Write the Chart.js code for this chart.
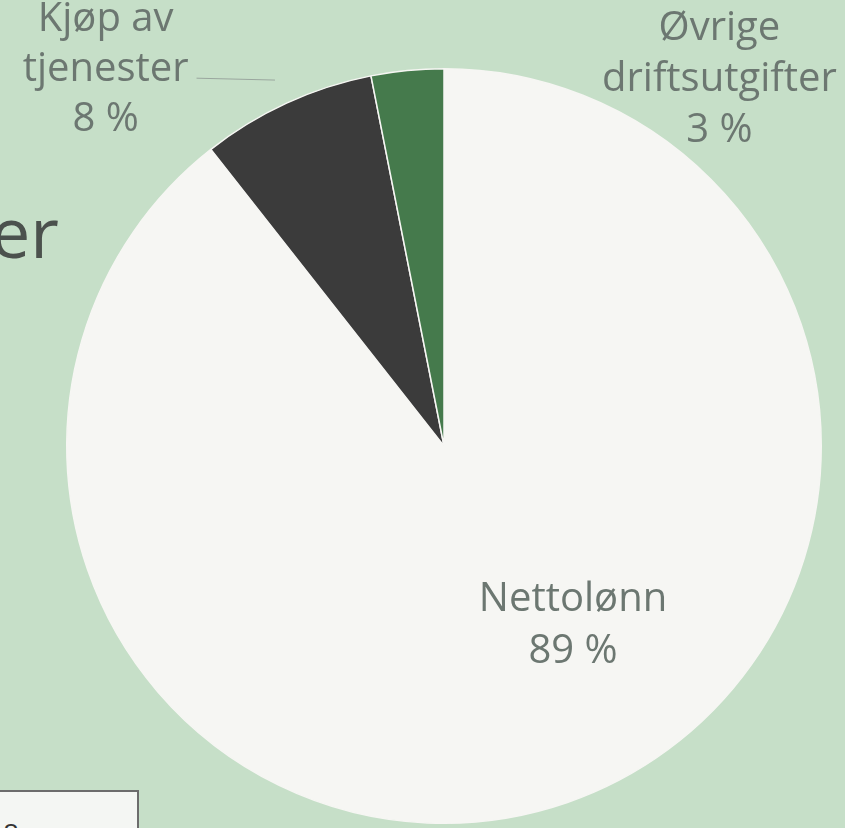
<!DOCTYPE html>
<html>
<head>
<meta charset="utf-8">
<script src="https://cdn.jsdelivr.net/npm/chart.js@4"></script>
<style>
  html, body { margin: 0; padding: 0; background: #c6dfc8; }
  #wrap { position: relative; width: 845px; height: 828px; overflow: hidden; background: #c6dfc8; }
  canvas { position: absolute; left: 0; top: 0; }
  #title { position: absolute; left: -9px; top: 196px; font-family: "Open Sans", sans-serif; font-size: 70px; color: #4b514d; line-height: 1; }
  #box { position: absolute; left: -2px; top: 790px; width: 141px; height: 60px; border: 2px solid #6c6c6c; background: #f4f6f3; box-sizing: border-box; overflow: hidden; }
  #box span { position: absolute; left: 3px; top: 22px; font-family: "Open Sans", sans-serif; font-size: 28px; color: #333; }
</style>
</head>
<body>
<div id="wrap">
  <canvas id="c" width="845" height="828"></canvas>
  <div id="title">er</div>
  <div id="box"><span>8</span></div>
</div>
<script>
const categories = ["Nettolønn", "Kjøp av tjenester", "Øvrige driftsutgifter"];
const labelLines = [["Nettolønn"], ["Kjøp av", "tjenester"], ["Øvrige", "driftsutgifter"]];
const shares = [89.4, 7.5, 3.1];
const sliceColors = ["#f6f6f3", "#3b3b3b", "#457a4c"];

const labelPlugin = {
  id: "sliceLabels",
  afterDatasetsDraw(chart, args, opts) {
    const ctx = chart.ctx;
    const meta = chart.getDatasetMeta(0);
    const total = shares.reduce((a, b) => a + b, 0);
    ctx.save();
    ctx.font = opts.font;
    ctx.fillStyle = opts.color;
    ctx.textAlign = "center";
    ctx.textBaseline = "middle";
    meta.data.forEach((arc, i) => {
      const r = arc.outerRadius, cx = arc.x, cy = arc.y;
      const a = opts.anchors[i];
      const lx = cx + a[0] * r, ly = cy + a[1] * r;
      const lines = labelLines[i].concat([Math.round(shares[i] / total * 100) + " %"]);
      const lh = opts.lineHeights[i];
      const y0 = ly - (lines.length - 1) * lh / 2;
      lines.forEach((t, k) => ctx.fillText(t, lx, y0 + k * lh));
    });
    const arc = meta.data[1];
    const r = arc.outerRadius;
    const L = opts.leader;
    ctx.strokeStyle = opts.leaderColor;
    ctx.lineWidth = 1;
    ctx.beginPath();
    ctx.moveTo(arc.x + L[0] * r, arc.y + L[1] * r);
    ctx.lineTo(arc.x + L[2] * r, arc.y + L[3] * r);
    ctx.stroke();
    ctx.restore();
  }
};

new Chart(document.getElementById("c"), {
  type: "pie",
  data: {
    labels: categories,
    datasets: [{
      data: shares,
      backgroundColor: sliceColors,
      borderColor: "#f6f6f3",
      borderWidth: 1.5
    }]
  },
  options: {
    responsive: false,
    animation: false,
    rotation: 0,
    layout: { padding: { left: 66, right: 23, top: 68, bottom: 4 } },
    plugins: {
      legend: { display: false },
      tooltip: { enabled: false },
      sliceLabels: {
        font: '40px "Open Sans", sans-serif',
        color: "#6c7771",
        anchors: [[0.342, 0.475], [-0.897, -0.997], [0.73, -0.971]],
        lineHeights: [52, 50, 51],
        leader: [-0.656, -0.975, -0.448, -0.970],
        leaderColor: "#9aa69e"
      }
    }
  },
  plugins: [labelPlugin]
});
</script>
</body>
</html>
